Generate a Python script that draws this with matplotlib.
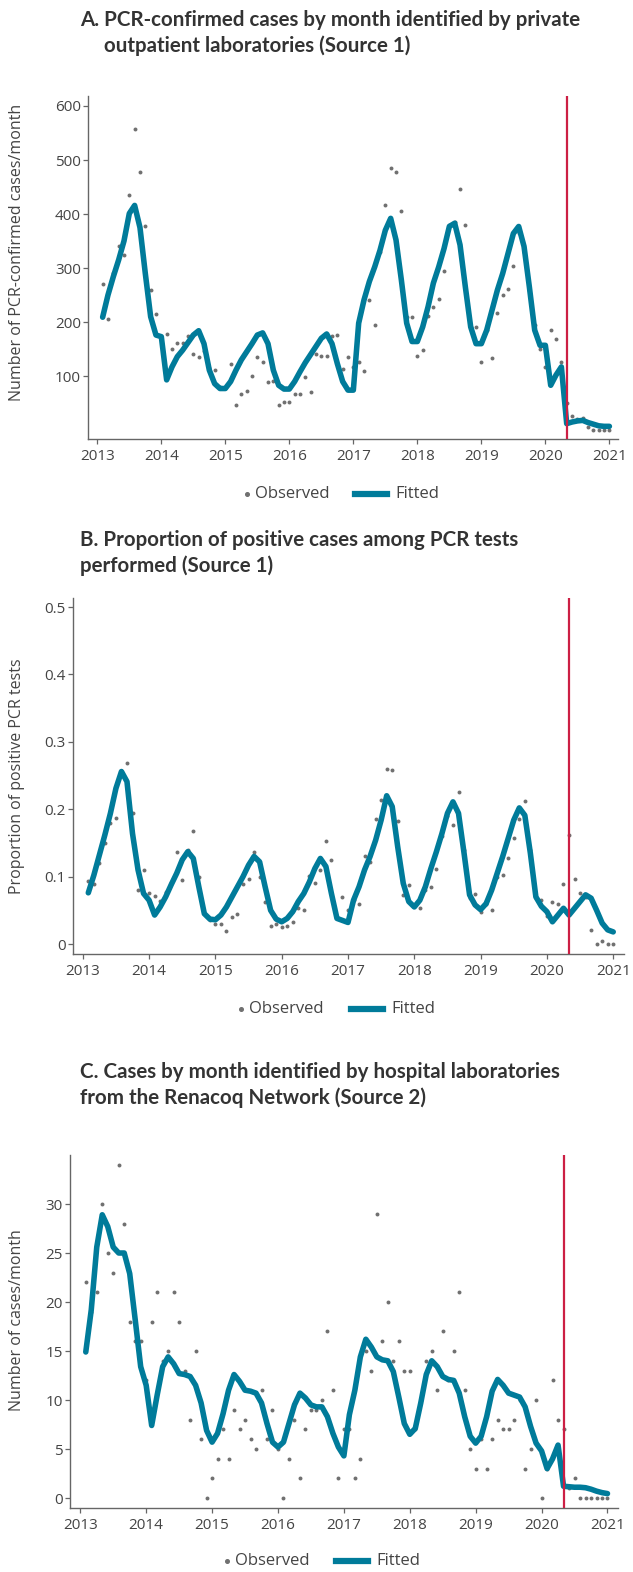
import numpy as np
import matplotlib
matplotlib.use("Agg")
import matplotlib.pyplot as plt
from matplotlib.lines import Line2D

# monthly series, Feb 2013 .. Jan 2021 (96 months)
months = np.arange(1, 97)
years = 2013 + months / 12.0
lockdown = 2013 + 88 / 12.0  # May 2020

# A. PCR-confirmed cases, private outpatient labs
cases_obs = [270, 205, 290, 340, 325, 435, 557, 478, 378, 260, 215, 175,
             178, 150, 162, 162, 175, 141, 135, 147, 115, 111, 80, 78,
             122, 47, 67, 72, 100, 136, 127, 89, 91, 46, 52, 52,
             67, 67, 99, 71, 141, 138, 138, 175, 177, 114, 136, 116,
             126, 109, 240, 194, 330, 417, 486, 478, 406, 210, 209, 137,
             148, 211, 228, 242, 295, 380, 385, 446, 380, 190, 191, 127,
             185, 133, 217, 250, 262, 304, 365, 330, 260, 195, 150, 116,
             185, 168, 126, 50, 26, 20, 23, 5, 0, 1, 0, 0]
cases_fit = [209, 250, 284, 315, 350, 401, 416, 375, 290, 210, 176, 173,
             93, 117, 136, 148, 162, 176, 184, 160, 111, 86, 77, 77,
             90, 111, 130, 145, 160, 176, 180, 160, 111, 83, 76, 76,
             90, 108, 125, 140, 155, 170, 178, 160, 123, 90, 74, 74,
             198, 241, 275, 302, 333, 370, 392, 352, 278, 198, 164, 164,
             191, 228, 272, 302, 336, 377, 383, 343, 265, 191, 160, 160,
             185, 222, 259, 290, 327, 364, 377, 340, 265, 185, 157, 157,
             83, 102, 117, 12, 15, 17, 18, 14, 11, 8, 7, 7]

# B. Proportion of positive PCR tests
prop_obs = [0.093, 0.089, 0.12, 0.15, 0.18, 0.187, 0.25, 0.268, 0.195, 0.080, 0.110, 0.075,
            0.071, 0.064, 0.077, 0.090, 0.137, 0.095, 0.14, 0.167, 0.10, 0.046, 0.035, 0.030,
            0.029, 0.019, 0.040, 0.044, 0.089, 0.096, 0.137, 0.100, 0.063, 0.027, 0.029, 0.025,
            0.027, 0.033, 0.054, 0.050, 0.101, 0.091, 0.110, 0.153, 0.125, 0.040, 0.070, 0.050,
            0.065, 0.060, 0.130, 0.122, 0.186, 0.213, 0.259, 0.258, 0.183, 0.073, 0.087, 0.056,
            0.054, 0.080, 0.084, 0.111, 0.160, 0.190, 0.176, 0.225, 0.140, 0.068, 0.074, 0.047,
            0.060, 0.050, 0.100, 0.103, 0.127, 0.158, 0.185, 0.212, 0.140, 0.068, 0.066, 0.041,
            0.063, 0.060, 0.089, 0.162, 0.096, 0.075, 0.070, 0.021, 0.0, 0.004, 0.0, 0.0]
prop_fit = [0.076, 0.102, 0.132, 0.162, 0.194, 0.231, 0.256, 0.241, 0.164, 0.110, 0.075, 0.065,
            0.043, 0.055, 0.070, 0.088, 0.105, 0.125, 0.137, 0.127, 0.085, 0.045, 0.037, 0.036,
            0.043, 0.055, 0.070, 0.085, 0.100, 0.117, 0.130, 0.122, 0.085, 0.050, 0.037, 0.033,
            0.038, 0.048, 0.063, 0.075, 0.092, 0.112, 0.127, 0.115, 0.075, 0.038, 0.035, 0.032,
            0.065, 0.085, 0.110, 0.130, 0.154, 0.184, 0.220, 0.204, 0.144, 0.090, 0.063, 0.055,
            0.065, 0.085, 0.112, 0.137, 0.164, 0.194, 0.211, 0.194, 0.135, 0.073, 0.058, 0.051,
            0.060, 0.080, 0.105, 0.130, 0.157, 0.184, 0.202, 0.191, 0.135, 0.070, 0.056, 0.048,
            0.033, 0.043, 0.053, 0.043, 0.053, 0.063, 0.073, 0.068, 0.050, 0.031, 0.021, 0.018]

# C. Cases, hospital laboratories (Renacoq)
hosp_obs = [22, 19, 21, 30, 25, 23, 34, 28, 18, 16, 16, 12,
            18, 21, 14, 15, 21, 18, 13, 8, 15, 6, 0, 2,
            4, 7, 4, 9, 7, 8, 6, 5, 11, 6, 9, 5,
            0, 4, 8, 2, 7, 9, 9, 10, 17, 11, 2, 7,
            7, 2, 4, 15, 13, 29, 16, 20, 14, 16, 13, 13,
            7, 10, 14, 15, 11, 17, 12, 15, 21, 11, 5, 3,
            6, 3, 6, 8, 7, 7, 8, 10, 3, 5, 10, 0,
            3, 12, 8, 7, 1, 2, 0, 0, 0, 0, 0, 0]
hosp_fit = [14.9, 19.2, 25.6, 28.9, 27.7, 25.6, 25.0, 25.0, 22.9, 18.2, 13.4, 11.5,
            7.4, 10.5, 13.4, 14.4, 13.7, 12.7, 12.6, 12.4, 11.5, 9.7, 6.9, 5.7,
            6.6, 8.6, 11.0, 12.6, 11.9, 11.0, 10.9, 10.7, 9.7, 7.6, 5.7, 5.2,
            5.7, 7.6, 9.5, 10.7, 10.2, 9.5, 9.3, 9.3, 8.3, 6.6, 5.2, 4.3,
            8.5, 11.0, 14.4, 16.2, 15.4, 14.4, 14.1, 14.0, 12.9, 10.3, 7.6, 6.5,
            7.1, 9.7, 12.6, 14.0, 13.4, 12.4, 12.1, 12.0, 10.7, 8.3, 6.3, 5.6,
            6.3, 8.3, 10.9, 12.1, 11.5, 10.7, 10.5, 10.3, 9.3, 7.3, 5.6, 4.8,
            3.0, 4.0, 5.4, 1.2, 1.15, 1.1, 1.1, 1.05, 0.9, 0.7, 0.55, 0.45]

year_ticks = list(range(2013, 2022))

TEAL = '#007b9a'
RED = '#cc1f44'
GREY = '#707070'
AXC = '#666666'
TXT = '#444444'
TITLE_FONT = ['Lato', 'DejaVu Sans']
BODY_FONT = ['Open Sans', 'Lato', 'DejaVu Sans']

plt.rcParams['font.family'] = BODY_FONT

W, H = 633, 1572
fig = plt.figure(figsize=(W / 100, H / 100), dpi=100)


def add_axes(left, right, top, bottom):
    return fig.add_axes([left / W, 1 - bottom / H, (right - left) / W, (bottom - top) / H])


def style(ax, xlim, ylim, yticks, ylabels, ylabel, ylab_y):
    ax.set_xlim(*xlim)
    ax.set_ylim(*ylim)
    ax.set_xticks(year_ticks)
    ax.set_xticklabels([str(y) for y in year_ticks])
    ax.set_yticks(yticks)
    ax.set_yticklabels(ylabels)
    for s in ['top', 'right']:
        ax.spines[s].set_visible(False)
    for s in ['left', 'bottom']:
        ax.spines[s].set_color(AXC)
        ax.spines[s].set_linewidth(1.0)
    ax.tick_params(axis='both', colors=AXC, labelcolor=TXT, labelsize=11,
                   length=3.5, width=0.9)
    ax.tick_params(axis='y', pad=1.5)
    ax.tick_params(axis='x', pad=3.5)
    fig.text(17 / W, 1 - ylab_y / H, ylabel, rotation=90, ha='center', va='center',
             color=TXT, fontsize=11.5)


def draw(ax, obs, fit):
    ax.scatter(years, obs, s=8, color=GREY, linewidths=0, zorder=2)
    ax.plot(years, fit, color=TEAL, lw=4.0, solid_capstyle='round',
            solid_joinstyle='round', zorder=3)
    ax.axvline(lockdown, color=RED, lw=1.6, zorder=4)


def legend(dot_x, line_x0, y):
    # hand-made legend row: dot + "Observed", thick bar + "Fitted"
    fy = 1 - y / H
    fig.add_artist(Line2D([dot_x / W], [fy], ls='none', marker='o', ms=2.6,
                          color=GREY, transform=fig.transFigure))
    fig.text((dot_x + 8) / W, fy, 'Observed', ha='left', va='center',
             fontsize=12, color=TXT)
    fig.add_artist(Line2D([line_x0 / W, (line_x0 + 32) / W], [fy, fy], color=TEAL,
                          lw=4.5, transform=fig.transFigure))
    fig.text((line_x0 + 40) / W, fy, 'Fitted', ha='left', va='center',
             fontsize=12, color=TXT)


def title(x, y, lines):
    for i, (dx, t) in enumerate(lines):
        fig.text((x + dx) / W, 1 - (y + 26 * i) / H, t, ha='left', va='center',
                 fontsize=14.8, fontweight='bold', color='#333333', family=TITLE_FONT)


# Panel A
title(80, 20, [(0, 'A. PCR-confirmed cases by month identified by private'),
               (24, 'outpatient laboratories (Source 1)')])
axA = add_axes(87.7, 617.7, 96, 439.3)
draw(axA, cases_obs, cases_fit)
style(axA, (2012.85, 2021.13), (-17, 618.5), [100, 200, 300, 400, 500, 600],
      ['100', '200', '300', '400', '500', '600'],
      'Number of PCR-confirmed cases/month', 252)
legend(247, 355, 494)

# Panel B
title(80, 540, [(0, 'B. Proportion of positive cases among PCR tests'),
                (0, 'performed (Source 1)')])
axB = add_axes(72.7, 623.7, 598.3, 954)
draw(axB, prop_obs, prop_fit)
style(axB, (2012.848, 2021.158), (-0.0148, 0.513), [0, 0.1, 0.2, 0.3, 0.4, 0.5],
      ['0', '0.1', '0.2', '0.3', '0.4', '0.5'],
      'Proportion of positive PCR tests', 776)
legend(241, 351, 1009)

# Panel C
title(80, 1072, [(0, 'C. Cases by month identified by hospital laboratories'),
                 (0, 'from the Renacoq Network (Source 2)')])
axC = add_axes(70, 617.7, 1155, 1508.3)
draw(axC, hosp_obs, hosp_fit)
style(axC, (2012.844, 2021.155), (-1.05, 35.0), [0, 5, 10, 15, 20, 25, 30],
      ['0', '5', '10', '15', '20', '25', '30'],
      'Number of cases/month', 1320)
legend(227, 336, 1561)

fig.savefig('out.png', dpi=100)
